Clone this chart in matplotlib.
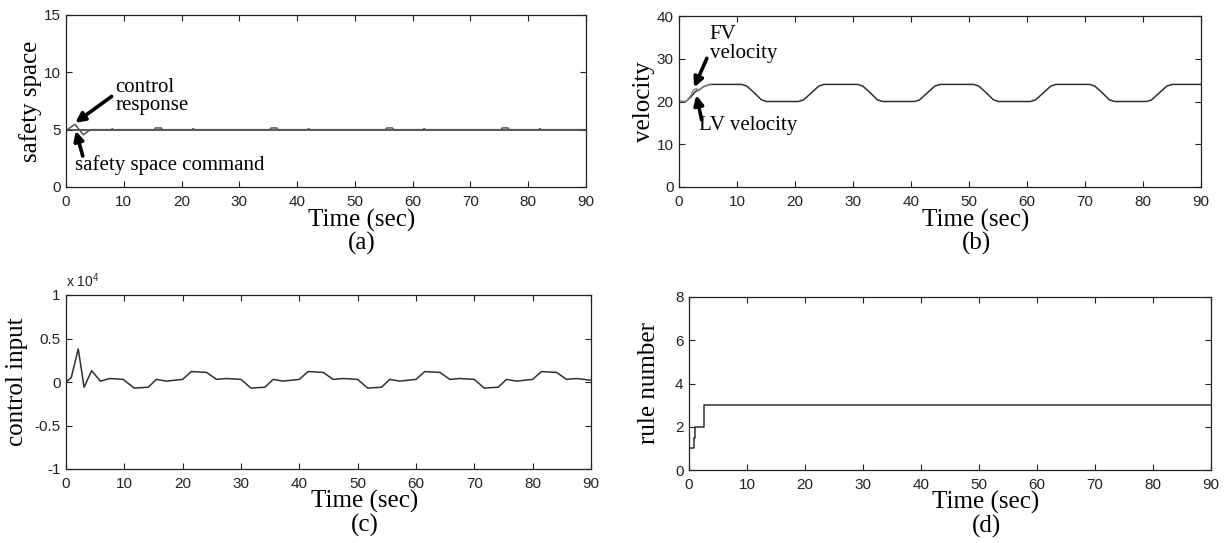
import numpy as np
import matplotlib
matplotlib.use("Agg")
import matplotlib.pyplot as plt

# (a) safety space: command and control response
safety_t = [0, 0.2, 1.55, 3.0, 4.15, 4.6, 7.8, 8.0, 8.2, 15.3, 15.5, 16.5, 16.7,
            21.8, 22.0, 22.2, 35.3, 35.5, 36.5, 36.7, 41.8, 42.0, 42.2,
            55.3, 55.5, 56.5, 56.7, 61.8, 62.0, 62.2, 75.3, 75.5, 76.5, 76.7,
            81.8, 82.0, 82.2, 90]
safety_resp = [5, 5, 5.46, 4.56, 4.97, 5, 5, 5.08, 5, 5, 5.15, 5.15, 5,
               5, 5.1, 5, 5, 5.15, 5.15, 5, 5, 5.1, 5,
               5, 5.15, 5.15, 5, 5, 5.1, 5, 5, 5.15, 5.15, 5,
               5, 5.1, 5, 5]
cmd_t = [0, 90]
cmd_v = [5, 5]

# (b) velocity of leading / following vehicle
lv_t = [0, 1.2, 2.0, 2.8, 3.5, 4.3, 5.3, 10.8, 11.7, 13.0, 14.2, 15.1,
        20.6, 21.5, 22.8, 24.1, 25.0, 30.8, 31.7, 33.0, 34.2, 35.1,
        40.6, 41.5, 42.8, 44.1, 45.0, 50.8, 51.7, 53.0, 54.2, 55.1,
        60.6, 61.5, 62.8, 64.1, 65.0, 70.8, 71.7, 73.0, 74.2, 75.1,
        80.6, 81.5, 82.8, 84.1, 85.0, 90]
lv_v = [20, 20, 21.0, 22.3, 22.8, 23.5, 24, 24, 23.6, 22, 20.4, 20,
        20, 20.4, 22, 23.6, 24, 24, 23.6, 22, 20.4, 20,
        20, 20.4, 22, 23.6, 24, 24, 23.6, 22, 20.4, 20,
        20, 20.4, 22, 23.6, 24, 24, 23.6, 22, 20.4, 20,
        20, 20.4, 22, 23.6, 24, 24]
fv_t = [0, 1.2, 2.0, 2.5, 3.0, 3.4, 4.0, 4.8, 5.5]
fv_v = [20, 20, 21.3, 22.7, 23.0, 22.5, 23.3, 23.8, 24]

# (c) control input (x 10^4)
ctrl_t = [0, 0.9, 2.1, 3.1, 4.4, 5.9, 7.5, 9.8, 11.7, 14.1, 15.5, 17.2,
          20.0, 21.5, 24.1, 25.8, 27.5, 30.0, 31.7, 34.1, 35.5, 37.2,
          40.0, 41.5, 44.1, 45.8, 47.5, 50.0, 51.7, 54.1, 55.5, 57.2,
          60.0, 61.5, 64.1, 65.8, 67.5, 70.0, 71.7, 74.1, 75.5, 77.2,
          80.0, 81.5, 84.1, 85.8, 87.5, 90]
ctrl_u = [0, 0.05, 0.38, -0.06, 0.13, 0.01, 0.04, 0.03, -0.07, -0.06, 0.03, 0.01,
          0.03, 0.12, 0.11, 0.03, 0.04, 0.03, -0.07, -0.06, 0.03, 0.01,
          0.03, 0.12, 0.11, 0.03, 0.04, 0.03, -0.07, -0.06, 0.03, 0.01,
          0.03, 0.12, 0.11, 0.03, 0.04, 0.03, -0.07, -0.06, 0.03, 0.01,
          0.03, 0.12, 0.11, 0.03, 0.04, 0.02]

# (d) fired rule number
rule_t = [0, 0, 0.9, 0.9, 1.1, 1.1, 2.6, 2.6, 90]
rule_n = [2, 1, 1, 1.5, 1.5, 2, 2, 3, 3]

W, H = 1228, 543
serif = ['Liberation Serif', 'DejaVu Serif']
sans = ['Liberation Sans', 'DejaVu Sans']
line_col = '#303030'

fig = plt.figure(figsize=(W / 100, H / 100), dpi=100)


def px_axes(x0, y0, x1, y1):
    return fig.add_axes([x0 / W, 1 - y1 / H, (x1 - x0) / W, (y1 - y0) / H])


def style(ax, ylim, yticks, ylabel, ylab_x, panel, time_dy, panel_dy):
    ax.set_xlim(0, 90)
    ax.set_ylim(*ylim)
    ax.set_xticks(range(0, 91, 10))
    ax.set_yticks(yticks)
    ax.tick_params(direction='in', top=True, right=True, length=4, width=0.8,
                   color='#222222', labelcolor='#222222', labelsize=11)
    ax.tick_params(axis='x', pad=6)
    ax.tick_params(axis='y', pad=4)
    for lab in ax.get_xticklabels() + ax.get_yticklabels():
        lab.set_family(sans)
    for s in ax.spines.values():
        s.set_linewidth(0.9)
        s.set_color('#222222')
    ax.set_ylabel(ylabel, family=serif, fontsize=18)
    ax.yaxis.set_label_coords(ylab_x, 0.5)
    # offsets below the axes, in pixels
    h = ax.get_position().height * H
    ax.text(0.569, -time_dy / h, 'Time (sec)', transform=ax.transAxes, ha='center',
            va='center', family=serif, fontsize=18)
    ax.text(0.569, -panel_dy / h, panel, transform=ax.transAxes, ha='center',
            va='center', family=serif, fontsize=18)


arrow = dict(arrowstyle='-|>', lw=2.6, color='black', mutation_scale=14,
             shrinkA=0, shrinkB=0)

# (a)
ax = px_axes(66, 15, 586, 187)
ax.plot(cmd_t, cmd_v, color=line_col, lw=1.1)
ax.plot(safety_t, safety_resp, color='#555555', lw=1.1)
style(ax, (0, 15), [0, 5, 10, 15], 'safety space', -0.047, '(a)', 33, 56)
ax.text(8.5, 8.3, 'control', family=serif, fontsize=15, va='baseline')
ax.text(8.5, 6.7, 'response', family=serif, fontsize=15, va='baseline')
ax.annotate('', xy=(1.6, 5.6), xytext=(7.9, 7.9), arrowprops=arrow)
ax.text(1.5, 1.45, 'safety space command', family=serif, fontsize=15, va='baseline')
ax.annotate('', xy=(1.7, 4.9), xytext=(2.9, 2.7), arrowprops=arrow)

# (b)
ax = px_axes(679, 16, 1201, 187)
ax.plot(lv_t, lv_v, color=line_col, lw=1.1)
ax.plot(fv_t, fv_v, color='#888888', lw=1.1)
style(ax, (0, 40), [0, 10, 20, 30, 40], 'velocity', -0.046, '(b)', 33, 56)
ax.text(5.3, 34.6, 'FV', family=serif, fontsize=15, va='baseline')
ax.text(5.3, 30.2, 'velocity', family=serif, fontsize=15, va='baseline')
ax.annotate('', xy=(2.6, 23.3), xytext=(4.8, 30.1), arrowprops=arrow)
ax.text(3.4, 13.3, 'LV velocity', family=serif, fontsize=15, va='baseline')
ax.annotate('', xy=(3.0, 21.5), xytext=(3.9, 15.7), arrowprops=arrow)

# (c)
ax = px_axes(66, 295, 591, 469)
ax.plot(ctrl_t, ctrl_u, color=line_col, lw=1.1)
style(ax, (-1, 1), [-1, -0.5, 0, 0.5, 1], 'control input', -0.072, '(c)', 32, 56)
ax.set_yticklabels(['-1', '-0.5', '0', '0.5', '1'], family=sans)
ax.text(0.0, 1.03, r'x 10$^{\mathregular{4}}$', transform=ax.transAxes,
        family=sans, fontsize=10, color='#222222', va='bottom')

# (d)
ax = px_axes(689, 297, 1211, 470)
ax.plot(rule_t, rule_n, color=line_col, lw=1.1)
style(ax, (0, 8), [0, 2, 4, 6, 8], 'rule number', -0.056, '(d)', 32, 56)

fig.savefig('out.png', dpi=100)
